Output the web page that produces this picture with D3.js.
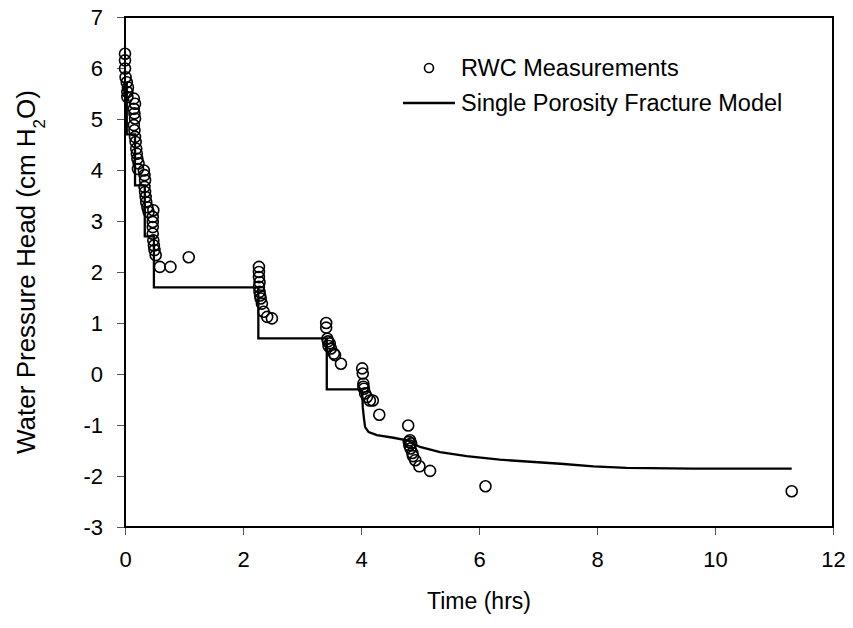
<!DOCTYPE html>
<html>
<head>
<meta charset="utf-8">
<script src="https://cdn.jsdelivr.net/npm/d3@7"></script>
<style>
  body { margin: 0; background: #fff; }
  text { font-family: "Liberation Sans", Arial, sans-serif; fill: #000; }
</style>
</head>
<body>
<svg width="853" height="628"></svg>
<script>

// RWC measurements (time in hrs, head in cm H2O)
let measTime = [
    0, 0, 0, 0.01, 0.03, 0.05, 0.04, 0.04,
    0.15, 0.17, 0.15, 0.16, 0.17, 0.15, 0.16, 0.17, 0.18, 0.19, 0.2, 0.21, 0.23, 0.22,
    0.32, 0.33, 0.34, 0.33, 0.34, 0.35, 0.36, 0.38, 0.40,
    0.48, 0.47, 0.47, 0.47, 0.47, 0.48, 0.49, 0.50, 0.52,
    0.59, 0.77, 1.08,
    2.27, 2.27, 2.27, 2.28, 2.27, 2.28, 2.29, 2.30, 2.32, 2.35, 2.41, 2.49,
    3.41, 3.41, 3.43, 3.44, 3.45, 3.47, 3.49, 3.54, 3.56, 3.66,
    4.02, 4.03, 4.04, 4.04, 4.05, 4.07, 4.10, 4.15, 4.20, 4.31,
    4.80, 4.81, 4.82, 4.83, 4.84, 4.85, 4.87, 4.88, 4.92, 4.99, 5.17, 6.11, 11.3
];
let measHead = [
    6.28, 6.15, 5.99, 5.82, 5.72, 5.62, 5.53, 5.43,
    5.40, 5.30, 5.20, 5.11, 5.01, 4.88, 4.78, 4.65, 4.55, 4.42, 4.32, 4.22, 4.13, 4.02,
    3.99, 3.90, 3.80, 3.67, 3.57, 3.47, 3.37, 3.27, 3.18,
    3.21, 3.08, 2.98, 2.88, 2.75, 2.62, 2.52, 2.43, 2.33,
    2.10, 2.10, 2.29,
    2.10, 2.00, 1.90, 1.80, 1.71, 1.61, 1.54, 1.48, 1.38, 1.22, 1.12, 1.09,
    1.00, 0.91, 0.69, 0.64, 0.55, 0.60, 0.50, 0.40, 0.37, 0.20,
    0.11, 0.01, -0.19, -0.25, -0.29, -0.38, -0.45, -0.52, -0.52, -0.80,
    -1.01, -1.33, -1.40, -1.30, -1.46, -1.36, -1.55, -1.61, -1.69, -1.81, -1.90, -2.20, -2.30
];

// single porosity fracture model
let modelTime = [0, 0.03, 0.03, 0.17, 0.17, 0.335, 0.335, 0.49, 0.49, 2.26, 2.26, 3.42, 3.42, 4.02,
    4.02, 4.03, 4.05, 4.07, 4.13, 4.27, 4.55, 4.78, 5.00, 5.34, 5.79, 6.35, 7.38, 7.94, 8.5, 9.63, 11.3];
let modelHead = [5.7, 5.7, 4.7, 4.7, 3.7, 3.7, 2.7, 2.7, 1.7, 1.7, 0.7, 0.7, -0.3, -0.3,
    -0.32, -0.65, -0.87, -1.04, -1.14, -1.20, -1.25, -1.30, -1.43, -1.53, -1.61, -1.68, -1.76, -1.81, -1.84, -1.855, -1.855];

let xTicks = [0, 2, 4, 6, 8, 10, 12];
let yTicks = [-3, -2, -1, 0, 1, 2, 3, 4, 5, 6, 7];

let margin = {top: 17, right: 20, bottom: 101, left: 125};
let width = 853 - margin.left - margin.right;
let height = 628 - margin.top - margin.bottom;

var svg = d3.select("svg");
var g = svg.append("g")
    .attr("transform", "translate(" + margin.left + "," + margin.top + ")");

var x = d3.scaleLinear().domain([0, 12]).range([0, width]);
var y = d3.scaleLinear().domain([-3, 7]).range([height, 0]);

// plain hyphen for negatives, like the original
var plain = function(d) { return String(d); };

//axes with outside ticks
var xAxis = g.append("g")
    .attr("transform", "translate(0," + height + ")")
    .call(d3.axisBottom(x).tickValues(xTicks).tickFormat(plain).tickSize(8).tickPadding(16));
var yAxis = g.append("g")
    .call(d3.axisLeft(y).tickValues(yTicks).tickFormat(plain).tickSize(8).tickPadding(14));

[xAxis, yAxis].forEach(function(a) {
    a.select(".domain").remove();
    a.selectAll(".tick line").attr("stroke", "#555").attr("stroke-width", 1);
    a.selectAll(".tick text").style("font-size", "22px").attr("fill", "#000");
});

//frame
g.append("rect")
    .attr("width", width)
    .attr("height", height)
    .attr("fill", "none")
    .attr("stroke", "#000")
    .attr("stroke-width", 2);

//model line
var modelData = modelTime.map(function(t, i) { return [t, modelHead[i]]; });
g.append("path")
    .datum(modelData)
    .attr("fill", "none")
    .attr("stroke", "#000")
    .attr("stroke-width", 2.3)
    .attr("d", d3.line()
        .x(function(d) { return x(d[0]); })
        .y(function(d) { return y(d[1]); }));

//measurement circles
g.append("g")
    .selectAll("circle")
    .data(measTime.map(function(t, i) { return [t, measHead[i]]; }))
    .enter()
    .append("circle")
    .attr("cx", function(d) { return x(d[0]); })
    .attr("cy", function(d) { return y(d[1]); })
    .attr("r", 5.5)
    .attr("fill", "none")
    .attr("stroke", "#000")
    .attr("stroke-width", 1.6);

//legend
var legend = svg.append("g");
legend.append("circle")
    .attr("cx", 429).attr("cy", 68).attr("r", 4.5)
    .attr("fill", "none").attr("stroke", "#000").attr("stroke-width", 1.6);
legend.append("text")
    .attr("x", 461).attr("y", 68).attr("dy", "0.35em")
    .style("font-size", "23.5px")
    .text("RWC Measurements");
legend.append("line")
    .attr("x1", 403).attr("x2", 455).attr("y1", 103).attr("y2", 103)
    .attr("stroke", "#000").attr("stroke-width", 2.3);
legend.append("text")
    .attr("x", 461).attr("y", 103).attr("dy", "0.35em")
    .style("font-size", "23.5px")
    .text("Single Porosity Fracture Model");

//axis titles
svg.append("text")
    .attr("x", margin.left + width / 2)
    .attr("y", 609)
    .attr("text-anchor", "middle")
    .style("font-size", "23px")
    .text("Time (hrs)");

var yTitle = svg.append("text")
    .attr("transform", "translate(35," + (margin.top + height / 2) + ") rotate(-90)")
    .attr("text-anchor", "middle")
    .style("font-size", "26px");
yTitle.append("tspan").text("Water Pressure Head (cm H");
yTitle.append("tspan").attr("baseline-shift", "sub").style("font-size", "17px").text("2");
yTitle.append("tspan").text("O)");

</script>
</body>
</html>
